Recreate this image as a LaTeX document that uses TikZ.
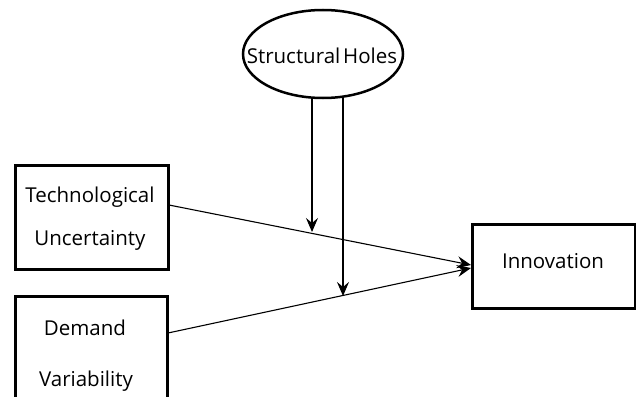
\documentclass[tikz,border=0pt]{standalone}
\usepackage{fontspec}
\setmainfont{Open Sans}
\usetikzlibrary{arrows.meta}
\begin{document}
\begin{tikzpicture}[x=1pt,y=-1pt,
  box/.style={draw,line width=3pt,rectangle,inner sep=0pt},
  lbl/.style={font=\fontsize{20.5}{24}\selectfont,inner sep=0pt},
  conn/.style={line width=1.1pt,-{Stealth[length=14pt,width=12pt,inset=5pt]}}]
\clip (0,0) rectangle (636,396);
\useasboundingbox (0,0) rectangle (636,396);
% boxes
\draw[box] (15,165) rectangle (168,269);
\draw[box] (15,296) rectangle (167,410);
\draw[box] (472,224) rectangle (635,308);
\draw[line width=2.5pt] (323,54) ellipse [x radius=80, y radius=44];
% texts
\node[lbl] (sh) at (322,56) {Structural\hspace{0.14em}Holes};
\node[lbl] (t1) at (90,197) {Technological};
\node[lbl] (t2) at (90,240) {Uncertainty};
\node[lbl] (d1) at (85,328) {Demand};
\node[lbl] (d2) at (86,381) {Variability};
\node[lbl] (inn) at (553,261) {Innovation};
% connector anchors
\coordinate (techR) at (169,205);
\coordinate (demR) at (168,333);
\coordinate (innL1) at (471,265);
\coordinate (innL2) at (471,268);
\coordinate (s1) at (312,98);
\coordinate (s2) at (343,98);
\coordinate (e1) at (312,232);
\coordinate (e2) at (343,296);
\draw[conn] (techR) -- (innL1);
\draw[conn] (demR) -- (innL2);
\draw[conn] (s1) -- (e1);
\draw[conn] (s2) -- (e2);
\end{tikzpicture}
\end{document}
